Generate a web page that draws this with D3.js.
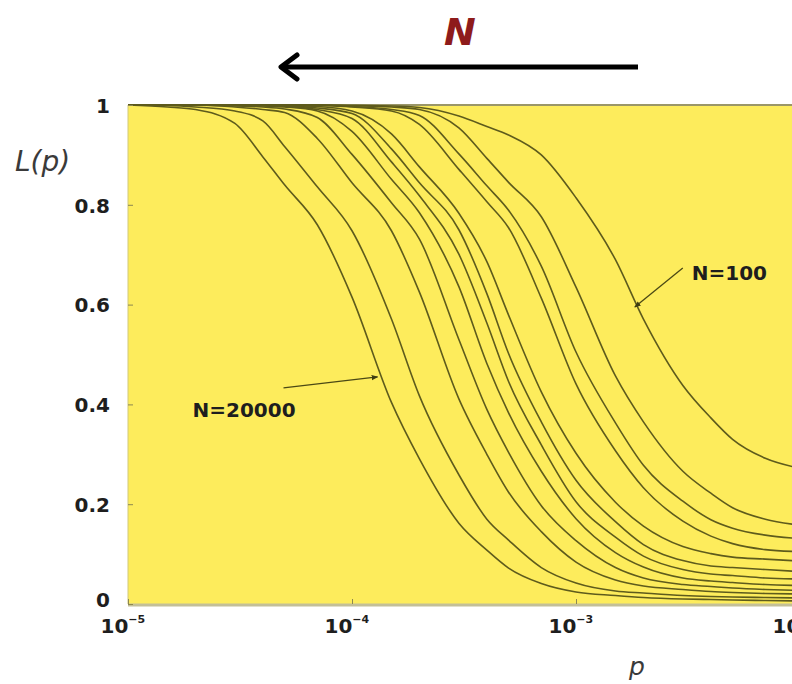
<!DOCTYPE html>
<html lang="en">
<head>
<meta charset="UTF-8">
<title>L(p)</title>
<style>
  body { margin: 0; background: #fff; overflow: hidden; }
  svg text { font-family: "DejaVu Sans", sans-serif; }
  .tick text { font-weight: bold; font-size: 20px; fill: #1e1e1e; }
  .tick line { stroke: #8d8850; }
  .curve { fill: none; stroke: #5e5b1c; stroke-width: 1.6; }
</style>
</head>
<body>
<svg></svg>
<script src="https://cdn.jsdelivr.net/npm/d3@7"></script>
<script>
  // rewiring probability grid (shared by every curve)
  var pGrid = [1e-5, 1.5e-5, 2e-5, 3e-5, 4e-5, 5e-5, 7e-5,
               1e-4, 1.5e-4, 2e-4, 3e-4, 4e-4, 5e-4, 7e-4,
               1e-3, 1.5e-3, 2e-3, 3e-3, 4e-3, 5e-3, 7e-3, 1e-2]

  // L(p), from largest N (left) to N=100 (right)
  var curveN20000 = [1.000, .996, .991, .963, .896, .840, .760, .615, .404, .291, .162, .108, .072, .041, .024, .017, .013, .010, .009, .008, .007, .006]
  var curve02 = [1.000, .999, .996, .988, .968, .917, .836, .748, .571, .417, .259, .170, .128, .073, .042, .026, .022, .017, .015, .014, .013, .012]
  var curve03 = [1, 1, 1, .996, .991, .985, .933, .844, .748, .625, .411, .300, .224, .145, .084, .048, .036, .029, .025, .023, .021, .020]
  var curve04 = [1, 1, 1, .998, .996, .992, .975, .901, .804, .731, .530, .390, .304, .197, .127, .073, .052, .039, .035, .032, .029, .027]
  var curve05 = [1, 1, 1, 1, .998, .996, .988, .947, .851, .784, .636, .482, .383, .266, .171, .103, .074, .052, .046, .043, .039, .037]
  var curve06 = [1, 1, 1, 1, .999, .997, .991, .973, .886, .818, .701, .563, .446, .319, .205, .134, .096, .069, .060, .057, .052, .050]
  var curve07 = [1, 1, 1, 1, 1, .998, .994, .983, .912, .844, .750, .622, .502, .365, .248, .165, .119, .087, .076, .073, .069, .065]
  var curve08 = [1, 1, 1, 1, 1, .999, .997, .988, .942, .876, .783, .686, .579, .425, .302, .204, .156, .115, .101, .094, .090, .086]
  var curve09 = [1, 1, 1, 1, 1, 1, .999, .996, .988, .961, .871, .806, .754, .613, .441, .307, .233, .166, .136, .121, .109, .105]
  var curve10 = [1, 1, 1, 1, 1, 1, 1, .997, .991, .979, .902, .838, .789, .677, .505, .363, .278, .206, .169, .152, .138, .131]
  var curve11 = [1, 1, 1, 1, 1, 1, 1, .999, .996, .991, .954, .893, .845, .776, .635, .457, .365, .266, .222, .193, .170, .158]
  var curveN100 = [1, 1, 1, 1, 1, 1, 1, .999, .998, .995, .978, .957, .940, .900, .814, .690, .571, .438, .373, .330, .292, .272]

  var curves = [curveN20000, curve02, curve03, curve04, curve05, curve06,
                curve07, curve08, curve09, curve10, curve11, curveN100]

  var yTicks = [0, 0.2, 0.4, 0.6, 0.8, 1]
  var xTicks = [1e-5, 1e-4, 1e-3, 1e-2]

  // labelled curves: text and the point the pointer touches
  var labelText = ['N=20000', 'N=100']
  var labelP = [1.3e-4, 1.83e-3]
  var labelL = [0.455, 0.595]

  var width = 792
  var height = 684

  var svg = d3.select('svg')
    .attr('width', width)
    .attr('height', height)

  var x = d3.scaleLog().domain([1e-5, 1e-2]).range([128, 800])
  var y = d3.scaleLinear().domain([0, 1]).range([604, 105])

  svg.append('defs').append('marker')
    .attr('id', 'tip')
    .attr('viewBox', '0 0 10 10')
    .attr('refX', 9).attr('refY', 5)
    .attr('markerWidth', 5).attr('markerHeight', 5)
    .attr('orient', 'auto')
    .append('path')
    .attr('d', 'M0,1 L10,5 L0,9 Z')
    .attr('fill', '#3e3c12')

  // yellow plot area, runs past the right edge like the cropped original
  svg.append('rect')
    .attr('x', x(1e-5)).attr('y', y(1))
    .attr('width', 740).attr('height', y(0) - y(1))
    .attr('fill', '#fdec5c')

  svg.append('line')
    .attr('x1', x(1e-5)).attr('x2', width)
    .attr('y1', y(1)).attr('y2', y(1))
    .attr('stroke', '#9a9668').attr('stroke-width', 2)
  svg.append('line')
    .attr('x1', x(1e-5)).attr('x2', width)
    .attr('y1', y(0) + 1).attr('y2', y(0) + 1)
    .attr('stroke', '#c3bf98').attr('stroke-width', 3)
  svg.append('line')
    .attr('x1', x(1e-5)).attr('x2', x(1e-5))
    .attr('y1', y(1)).attr('y2', y(0))
    .attr('stroke', '#d2c978').attr('stroke-width', 1)

  var line = d3.line()
    .x((d, i) => x(pGrid[i]))
    .y(d => y(d))
    .curve(d3.curveMonotoneX)

  svg.selectAll('path.curve')
    .data(curves)
    .enter()
    .append('path')
    .attr('class', 'curve')
    .attr('d', d => line(d))

  // y axis
  var yAxis = svg.append('g')
    .attr('transform', `translate(${x(1e-5)},0)`)
    .call(d3.axisLeft(y)
      .tickValues(yTicks)
      .tickSize(-5)
      .tickPadding(18)
      .tickFormat(d => (d === 0 || d === 1) ? d : d.toFixed(1)))
  yAxis.select('.domain').remove()
  yAxis.selectAll('.tick text')
    .attr('dy', d => d === 0 ? '0.12em' : '0.36em')

  // x axis with 10^k labels
  var xAxis = svg.append('g')
    .attr('transform', `translate(0,${y(0)})`)
    .call(d3.axisBottom(x).tickValues(xTicks).tickSize(-5).tickFormat(''))
  xAxis.select('.domain').remove()
  xAxis.selectAll('.tick text').remove()
  var xt = xAxis.selectAll('.tick')
    .append('text')
    .attr('x', -28)
    .attr('y', 29)
    .attr('text-anchor', 'start')
  xt.append('tspan').text('10')
  xt.append('tspan')
    .attr('font-size', 11)
    .attr('dy', -10)
    .text(d => '\u2212' + Math.round(-Math.log10(d)))

  // axis titles
  svg.append('text')
    .attr('x', 15).attr('y', 171)
    .attr('font-size', 28)
    .attr('font-style', 'italic')
    .attr('fill', '#3a3a3a')
    .text('L(p)')
  svg.append('text')
    .attr('x', 637).attr('y', 675)
    .attr('text-anchor', 'middle')
    .attr('font-size', 25)
    .attr('font-style', 'italic')
    .attr('fill', '#3a3a3a')
    .text('p')

  // curve labels with pointers
  var tailOffset = [[-94, 11], [48, -39]]
  var textOffset = [[-185, 40], [57, -27]]

  labelText.forEach((t, i) => {
    var tx = x(labelP[i])
    var ty = y(labelL[i])
    svg.append('line')
      .attr('x1', tx + tailOffset[i][0]).attr('y1', ty + tailOffset[i][1])
      .attr('x2', tx).attr('y2', ty)
      .attr('stroke', '#4a4815').attr('stroke-width', 1.3)
      .attr('marker-end', 'url(#tip)')
    svg.append('text')
      .attr('x', tx + textOffset[i][0]).attr('y', ty + textOffset[i][1])
      .attr('font-size', 20)
      .attr('font-weight', 'bold')
      .attr('fill', '#1e1e1e')
      .text(t)
  })

  // "N grows to the left" arrow on top
  svg.append('line')
    .attr('x1', 283).attr('x2', 638)
    .attr('y1', 67).attr('y2', 67)
    .attr('stroke', '#000').attr('stroke-width', 5)
  svg.append('path')
    .attr('d', 'M297,55 L281,67 L297,79')
    .attr('fill', 'none')
    .attr('stroke', '#000').attr('stroke-width', 5)
    .attr('stroke-linecap', 'round')
    .attr('stroke-linejoin', 'round')
  svg.append('text')
    .attr('x', 460).attr('y', 45)
    .attr('text-anchor', 'middle')
    .attr('font-family', '"Open Sans", sans-serif')
    .attr('font-size', 38)
    .attr('font-weight', 'bold')
    .attr('font-style', 'italic')
    .attr('fill', '#8e1b1b')
    .text('N')
</script>
</body>
</html>
